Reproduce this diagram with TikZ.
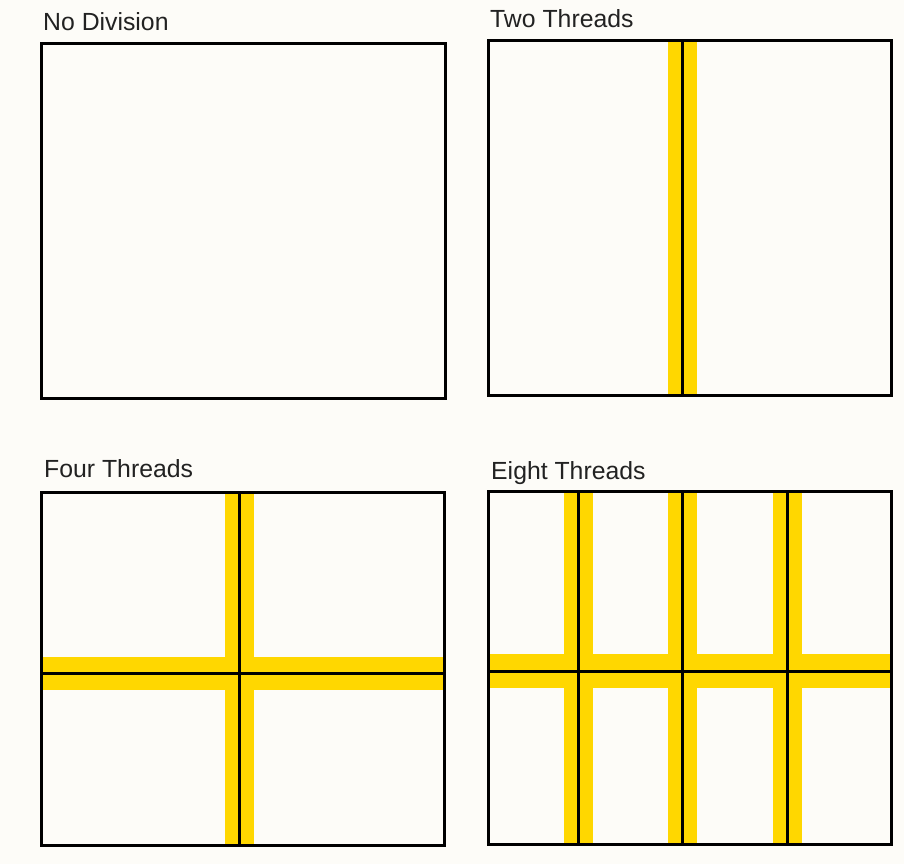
\documentclass[tikz,border=0pt]{standalone}
\usepackage{fontspec}
\setmainfont{Liberation Sans}
\usetikzlibrary{positioning}
\definecolor{paperWhite}{RGB}{253, 252, 248}
\definecolor{threadGold}{RGB}{255, 215, 0}
\definecolor{titleInk}{RGB}{34, 34, 34}
\tikzset{
    panelFill/.style={fill=paperWhite},
    panelFrame/.style={line width=3pt, draw=black},
    splitBand/.style={fill=threadGold},
    splitLine/.style={line width=3pt, black},
    panelTitle/.style={anchor=base west, inner sep=0pt, text=titleInk,
        font=\fontsize{24.8}{29}\selectfont},
}

\begin{document}
\begin{tikzpicture}[x=1pt, y=-1pt]

    % Page
    \useasboundingbox (0,0) rectangle (904,864);
    \fill[paperWhite] (0,0) rectangle (904,864);

    % No Division
    \node[panelTitle] (titleNone) at (43,30.5) {No Division};
    \fill[panelFill] (41,44) rectangle (445,398);
    \draw[panelFrame] (41,44) rectangle (445,398);

    % Two Threads
    \node[panelTitle] (titleTwo) at (490,28) {Two Threads};
    \fill[panelFill] (488,41) rectangle (891,395);
    \fill[splitBand] (668,41) rectangle (697,395);
    \draw[splitLine] (682.5,41) -- (682.5,395);
    \draw[panelFrame] (488,41) rectangle (891,395);

    % Four Threads
    \node[panelTitle] (titleFour) at (44,477) {Four Threads};
    \fill[panelFill] (41,492) rectangle (444,845);
    \fill[splitBand] (225,492) rectangle (254,845);
    \fill[splitBand] (41,657) rectangle (444,690);
    \draw[splitLine] (239.5,492) -- (239.5,845);
    \draw[splitLine] (41,673.5) -- (444,673.5);
    \draw[panelFrame] (41,492) rectangle (444,845);

    % Eight Threads
    \node[panelTitle] (titleEight) at (491,479.5) {Eight Threads};
    \fill[panelFill] (488,491) rectangle (891,844);
    \foreach \xc in {578,682.5,787.5} {
        \fill[splitBand] (\xc-14.5,491) rectangle (\xc+14.5,844);
    }
    \fill[splitBand] (488,654) rectangle (891,688);
    \foreach \xc in {578,682.5,787.5} {
        \draw[splitLine] (\xc,491) -- (\xc,844);
    }
    \draw[splitLine] (488,671.5) -- (891,671.5);
    \draw[panelFrame] (488,491) rectangle (891,844);

\end{tikzpicture}
\end{document}
